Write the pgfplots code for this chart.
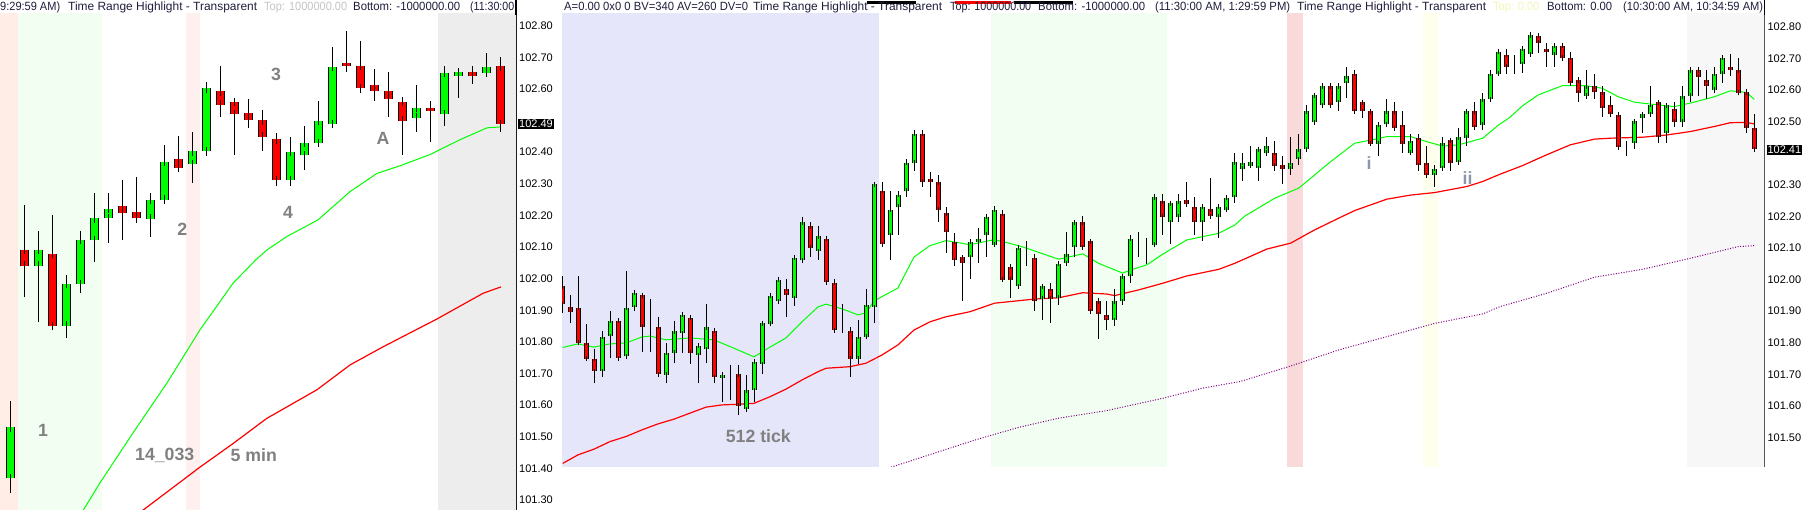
\documentclass[border=0pt]{standalone}
\usepackage{fontspec}
\setmainfont{Liberation Sans}
\usepackage{graphicx}
\usepackage{pgfplots}
\pgfplotsset{compat=1.18}
\usepackage{pgfplotstable}

\definecolor{cgreen}{HTML}{00FF00}
\definecolor{cred}{HTML}{FF0000}
\definecolor{mapurple}{HTML}{800080}
\definecolor{bgpeach}{HTML}{FFEDE6}
\definecolor{bgmint}{HTML}{F1FEF1}
\definecolor{bgpinkL}{HTML}{FFF0F0}
\definecolor{bggrayL}{HTML}{EDEDED}
\definecolor{bglav}{HTML}{E6E6FA}
\definecolor{bgpinkR}{HTML}{F8DADA}
\definecolor{bgivory}{HTML}{FFFFEE}
\definecolor{bggrayR}{HTML}{F7F7F7}
\definecolor{annot}{HTML}{808080}
\definecolor{annotb}{HTML}{8A96AA}
\definecolor{hdr}{HTML}{1E1E3C}
\definecolor{hdrlight}{HTML}{C4C4C4}
\definecolor{hdryellow}{HTML}{F4F4B8}

\newcommand\hfont{\fontsize{11.9}{12}\selectfont}
\newcommand\afont{\fontsize{17.7}{18}\selectfont\bfseries}
% header piece: left x, width, colour, text
\newcommand\hdrpiece[4]{%
  \node[anchor=base west, inner sep=0pt, font=\hfont, text=#3] at (#1pt,499pt)
    {\resizebox{#2pt}{\height}{#4}};}

% 5 min candles: index, open, high, low, close
\pgfplotstableread{
k o h l c
0 101.370 101.613 101.323 101.530
1 102.091 102.233 101.943 102.042
2 102.042 102.151 101.864 102.091
3 102.080 102.201 101.843 101.851
4 101.851 102.011 101.813 101.983
5 101.983 102.151 101.954 102.123
6 102.122 102.272 102.054 102.191
7 102.191 102.272 102.114 102.222
8 102.232 102.312 102.125 102.210
9 102.210 102.322 102.175 102.191
10 102.191 102.272 102.133 102.251
11 102.251 102.423 102.251 102.371
12 102.380 102.451 102.344 102.352
13 102.362 102.464 102.303 102.403
14 102.403 102.622 102.392 102.602
15 102.593 102.673 102.512 102.551
16 102.561 102.570 102.392 102.523
17 102.523 102.570 102.476 102.502
18 102.501 102.533 102.405 102.450
19 102.441 102.463 102.294 102.311
20 102.311 102.451 102.294 102.402
21 102.390 102.483 102.344 102.431
22 102.430 102.562 102.426 102.501
23 102.491 102.733 102.491 102.672
24 102.682 102.783 102.655 102.672
25 102.672 102.753 102.602 102.602
26 102.612 102.663 102.563 102.593
27 102.593 102.655 102.512 102.569
28 102.561 102.561 102.392 102.501
29 102.510 102.612 102.465 102.542
30 102.542 102.562 102.433 102.532
31 102.522 102.673 102.483 102.653
32 102.643 102.662 102.572 102.653
33 102.653 102.672 102.615 102.643
34 102.653 102.714 102.645 102.672
35 102.672 102.702 102.465 102.490
}\candlesL

% 512 tick candles: index, open, high, low, close
\pgfplotstableread{
k o h l c
0 101.980 102.011 101.893 101.922
1 101.914 101.951 101.863 101.898
2 101.912 102.011 101.801 101.801
3 101.801 101.861 101.750 101.750
4 101.750 101.780 101.673 101.710
5 101.710 101.838 101.692 101.819
6 101.821 101.900 101.754 101.870
7 101.870 101.870 101.743 101.750
8 101.758 102.030 101.754 101.912
9 101.912 101.959 101.901 101.959
10 101.951 101.959 101.772 101.851
11 101.853 101.940 101.772 101.853
12 101.851 101.880 101.700 101.700
13 101.700 101.800 101.673 101.769
14 101.769 101.870 101.735 101.838
15 101.830 101.898 101.769 101.890
16 101.880 101.890 101.735 101.769
17 101.761 101.800 101.673 101.791
18 101.780 101.922 101.735 101.851
19 101.838 101.840 101.673 101.690
20 101.690 101.700 101.613 101.700
21 101.700 101.729 101.619 101.700
22 101.700 101.731 101.573 101.600
23 101.589 101.700 101.589 101.650
24 101.650 101.743 101.613 101.740
25 101.731 101.870 101.703 101.861
26 101.861 101.959 101.854 101.949
27 101.932 102.000 101.932 102.000
28 101.972 102.000 101.882 101.951
29 101.942 102.070 101.916 102.070
30 102.062 102.199 102.062 102.181
31 102.170 102.181 102.072 102.102
32 102.090 102.170 102.062 102.139
33 102.130 102.139 101.991 101.991
34 101.990 102.000 101.840 101.840
35 101.838 101.922 101.832 101.838
36 101.838 101.851 101.692 101.750
37 101.750 101.872 101.735 101.819
38 101.819 101.972 101.814 101.921
39 101.912 102.309 101.863 102.301
40 102.281 102.309 102.104 102.111
41 102.141 102.281 102.062 102.222
42 102.230 102.281 102.141 102.269
43 102.281 102.380 102.262 102.371
44 102.371 102.473 102.344 102.462
45 102.462 102.473 102.294 102.309
46 102.320 102.341 102.262 102.309
47 102.309 102.331 102.183 102.222
48 102.209 102.230 102.083 102.149
49 102.120 102.149 102.044 102.062
50 102.070 102.070 101.933 102.051
51 102.070 102.120 102.004 102.120
52 102.120 102.162 102.051 102.130
53 102.141 102.209 102.072 102.199
54 102.111 102.232 102.104 102.222
55 102.209 102.222 102.000 102.000
56 102.041 102.041 101.942 102.000
57 101.980 102.111 101.980 102.102
58 102.070 102.122 102.043 102.070
59 102.070 102.081 101.900 101.932
60 101.940 101.980 101.872 101.980
61 101.972 101.991 101.863 101.940
62 101.942 102.051 101.922 102.051
63 102.051 102.151 102.044 102.080
64 102.102 102.190 102.072 102.181
65 102.181 102.201 102.102 102.102
66 102.122 102.122 101.900 101.900
67 101.932 101.942 101.814 101.891
68 101.890 101.932 101.840 101.872
69 101.872 101.972 101.854 101.932
70 101.932 102.011 101.922 102.011
71 102.011 102.141 101.990 102.130
72 102.122 102.151 102.070 102.122
73 102.122 102.132 102.051 102.122
74 102.111 102.269 102.111 102.260
75 102.249 102.269 102.141 102.199
76 102.181 102.241 102.111 102.241
77 102.199 102.269 102.181 102.249
78 102.251 102.309 102.230 102.241
79 102.230 102.260 102.141 102.181
80 102.181 102.241 102.122 102.230
81 102.222 102.320 102.191 102.201
82 102.199 102.230 102.132 102.230
83 102.222 102.269 102.222 102.260
84 102.260 102.402 102.244 102.371
85 102.352 102.402 102.312 102.371
86 102.360 102.422 102.354 102.371
87 102.352 102.412 102.312 102.412
88 102.402 102.452 102.392 102.422
89 102.402 102.441 102.344 102.360
90 102.362 102.392 102.304 102.352
91 102.352 102.452 102.331 102.371
92 102.380 102.462 102.362 102.412
93 102.412 102.552 102.412 102.533
94 102.499 102.584 102.499 102.584
95 102.552 102.623 102.552 102.612
96 102.612 102.623 102.552 102.552
97 102.561 102.623 102.533 102.612
98 102.621 102.673 102.573 102.644
99 102.652 102.663 102.533 102.533
100 102.561 102.571 102.513 102.533
101 102.533 102.542 102.423 102.431
102 102.431 102.491 102.392 102.491
103 102.491 102.571 102.484 102.533
104 102.533 102.561 102.473 102.480
105 102.491 102.533 102.402 102.431
106 102.402 102.462 102.402 102.441
107 102.450 102.462 102.344 102.362
108 102.371 102.423 102.331 102.331
109 102.331 102.362 102.294 102.352
110 102.352 102.452 102.344 102.431
111 102.441 102.441 102.344 102.371
112 102.371 102.481 102.371 102.450
113 102.450 102.533 102.423 102.533
114 102.533 102.561 102.481 102.481
115 102.491 102.592 102.473 102.571
116 102.571 102.663 102.563 102.652
117 102.652 102.731 102.652 102.721
118 102.712 102.731 102.652 102.673
119 102.670 102.712 102.652 102.670
120 102.682 102.731 102.655 102.731
121 102.712 102.782 102.712 102.772
122 102.772 102.772 102.716 102.750
123 102.731 102.750 102.673 102.721
124 102.712 102.750 102.673 102.740
125 102.740 102.750 102.692 102.702
126 102.702 102.721 102.621 102.621
127 102.631 102.642 102.563 102.592
128 102.582 102.663 102.573 102.612
129 102.612 102.652 102.571 102.592
130 102.592 102.612 102.513 102.542
131 102.552 102.582 102.513 102.523
132 102.523 102.523 102.420 102.420
133 102.431 102.441 102.392 102.431
134 102.431 102.510 102.415 102.501
135 102.510 102.531 102.465 102.523
136 102.523 102.612 102.523 102.552
137 102.561 102.563 102.433 102.450
138 102.462 102.552 102.433 102.552
139 102.542 102.561 102.484 102.501
140 102.501 102.612 102.484 102.582
141 102.582 102.673 102.563 102.663
142 102.663 102.673 102.582 102.642
143 102.631 102.663 102.571 102.612
144 102.602 102.673 102.592 102.652
145 102.652 102.702 102.623 102.702
146 102.672 102.712 102.644 102.663
147 102.663 102.702 102.592 102.592
148 102.592 102.602 102.465 102.480
149 102.480 102.523 102.404 102.412
}\candlesR

\pgfplotsset{
  panel/.style={
    scale only axis,
    axis x line=none,
    axis y line=right,
    axis line style={black, line width=1.2pt, -},
    xtick=\empty,
    scaled y ticks=false,
    major tick length=0pt,
    tick style={draw=none},
    yticklabel style={font=\fontsize{11}{12}\selectfont, anchor=west, inner sep=0pt, xshift=3pt,
      /pgf/number format/fixed, /pgf/number format/fixed zerofill,
      /pgf/number format/precision=2, /pgf/number format/assume math mode=true},
    extra y tick style={yticklabel style={fill=black, text=white, inner sep=1pt, xshift=-1pt}},
  },
  wicks/.style={draw=none, mark=none, error bars/.cd, y dir=both, y explicit,
    error mark=none, error bar style={black, line width=1pt}},
  bodyout/.style={draw=none, mark=none, restrict y to domain=100:104, error bars/.cd,
    y dir=both, y explicit, error mark=none, error bar style={black, line width=#1}},
  bodyin/.style n args={3}{draw=none, mark=none, restrict y to domain=100:104, error bars/.cd,
    y dir=both, y explicit, error mark=-, error mark options={black, line width=1pt, mark size=#3},
    error bar style={#1, line width=#2}},
}

\begin{document}
\begin{tikzpicture}
\path[use as bounding box] (0pt,0pt) rectangle (1813pt,510pt);

% ---------------- left panel: 5 min ----------------
\begin{axis}[panel, at={(0pt,0pt)}, anchor=south west,
  width=516pt, height=496pt,
  xmin=-0.765, xmax=36.12, ymin=101.2684, ymax=102.837,
  ytick={101.3,101.4,101.5,101.6,101.7,101.8,101.9,102.0,102.1,102.2,102.3,102.4,102.6,102.7,102.8},
  extra y ticks={102.49}]
  \addplot[draw=none, fill=bgpeach] coordinates {(-1,101) (-1,103) (0.52,103) (0.52,101)} -- cycle;
  \addplot[draw=none, fill=bgmint] coordinates {(0.52,101) (0.52,103) (6.53,103) (6.53,101)} -- cycle;
  \addplot[draw=none, fill=bgpinkL] coordinates {(12.53,101) (12.53,103) (13.53,103) (13.53,101)} -- cycle;
  \addplot[draw=none, fill=bggrayL] coordinates {(30.55,101) (30.55,103) (37,103) (37,101)} -- cycle;

  \addplot[cgreen, line width=1pt, mark=none] coordinates {
    (4.6,101.225) (5.19,101.268) (6.38,101.354) (8.74,101.512) (11.17,101.670)
    (13.53,101.838) (15.9,101.986) (17.51,102.059) (18.32,102.091) (19.73,102.133)
    (21.97,102.186) (24.25,102.275) (26.19,102.333) (27.83,102.357) (30.0,102.393)
    (32.1,102.439) (34.05,102.477) (35.05,102.480)};
  \addplot[cred, line width=1.2pt, mark=none] coordinates {
    (8.5,101.236) (9.46,101.268) (13.53,101.404) (15.91,101.479) (18.30,101.558)
    (21.87,101.648) (24.25,101.727) (26.64,101.785) (30.45,101.872) (33.78,101.954)
    (35.05,101.974)};

  \addplot[wicks] table[x=k, y expr={(\thisrow{h}+\thisrow{l})/2},
    y error expr={(\thisrow{h}-\thisrow{l})/2}] {\candlesL};
  \addplot[bodyout=8.6pt] table[x=k,
    y expr={\thisrow{c}<\thisrow{o} ? 200 : (\thisrow{o}+\thisrow{c})/2},
    y error expr={abs(\thisrow{c}-\thisrow{o})/2}] {\candlesL};
  \addplot[bodyin={cgreen}{6.6pt}{4.3pt}] table[x=k,
    y expr={\thisrow{c}<\thisrow{o} ? 200 : (\thisrow{o}+\thisrow{c})/2},
    y error expr={abs(\thisrow{c}-\thisrow{o})/2}] {\candlesL};
  \addplot[bodyout=8.6pt] table[x=k,
    y expr={\thisrow{c}<\thisrow{o} ? (\thisrow{o}+\thisrow{c})/2 : 200},
    y error expr={abs(\thisrow{c}-\thisrow{o})/2}] {\candlesL};
  \addplot[bodyin={cred}{6.6pt}{4.3pt}] table[x=k,
    y expr={\thisrow{c}<\thisrow{o} ? (\thisrow{o}+\thisrow{c})/2 : 200},
    y error expr={abs(\thisrow{c}-\thisrow{o})/2}] {\candlesL};

  \node[font=\afont, text=annot] at (axis cs:2.31,101.521) {1};
  \node[font=\afont, text=annot] at (axis cs:12.26,102.157) {2};
  \node[font=\afont, text=annot] at (axis cs:18.96,102.647) {3};
  \node[font=\afont, text=annot] at (axis cs:19.82,102.211) {4};
  \node[font=\afont, text=annot] at (axis cs:26.61,102.445) {A};
  \node[font=\afont, text=annot] at (axis cs:11.01,101.441) {14\_033};
  \node[font=\afont, text=annot] at (axis cs:17.38,101.441) {5 min};
\end{axis}

% ---------------- right panel: 512 tick ----------------
\begin{axis}[panel, at={(562pt,43pt)}, anchor=south west,
  width=1202.3pt, height=453pt,
  xmin=-0.0875, xmax=150.2, ymin=101.4066, ymax=102.840,
  ytick={101.5,101.6,101.7,101.8,101.9,102.0,102.1,102.2,102.3,102.5,102.6,102.7,102.8},
  extra y ticks={102.41}]
  \addplot[draw=none, fill=bglav] coordinates {(-1,101) (-1,103) (39.54,103) (39.54,101)} -- cycle;
  \addplot[draw=none, fill=bgmint] coordinates {(53.54,101) (53.54,103) (75.5,103) (75.5,101)} -- cycle;
  \addplot[draw=none, fill=bgpinkR] coordinates {(90.54,101) (90.54,103) (92.54,103) (92.54,101)} -- cycle;
  \addplot[draw=none, fill=bgivory] coordinates {(107.54,101) (107.54,103) (109.54,103) (109.54,101)} -- cycle;
  \addplot[draw=none, fill=bggrayR] coordinates {(140.58,101) (140.58,103) (151,103) (151,101)} -- cycle;

  \addplot[mapurple, line width=1pt, dash pattern=on 1pt off 1.6pt, mark=none] coordinates {
    (39.5,101.393) (41.3,101.408) (51.54,101.492) (57.0,101.532) (62.0,101.561)
    (68.0,101.585) (75.0,101.624) (80.0,101.656) (84.66,101.677) (91.0,101.726)
    (97.0,101.777) (103.0,101.819) (109.0,101.861) (115.0,101.891) (117.16,101.914)
    (122.95,101.956) (128.95,102.007) (134.95,102.032) (140.95,102.067) (146.95,102.104)
    (148.95,102.107)};
  \addplot[cred, line width=1.2pt, mark=none] coordinates {
    (0,101.418) (1.91,101.445) (3.91,101.463) (5.91,101.487) (7.91,101.503)
    (9.91,101.524) (11.91,101.543) (13.91,101.558) (15.91,101.577) (17.91,101.596)
    (19.91,101.603) (21.91,101.605) (23.91,101.608) (25.91,101.629) (27.91,101.653)
    (29.91,101.682) (31.91,101.708) (32.91,101.719) (35.91,101.724) (37.91,101.735)
    (39.91,101.761) (41.91,101.793) (43.91,101.840) (45.91,101.866) (47.91,101.882)
    (50.91,101.898) (54.0,101.925) (59.0,101.938) (62.0,101.942) (65.0,101.958)
    (68.0,101.954) (69.0,101.949) (72.0,101.967) (75.0,101.988) (78.0,102.011)
    (82.0,102.032) (84.0,102.051) (88.0,102.096) (91.0,102.115) (94.0,102.157)
    (97.0,102.194) (99.0,102.218) (103.0,102.254) (106.0,102.267) (109.0,102.275)
    (113.0,102.294) (115.0,102.310) (117.16,102.333) (119.95,102.360) (122.95,102.394)
    (125.95,102.426) (128.95,102.444) (130.95,102.447) (134.95,102.450) (137.95,102.457)
    (140.95,102.468) (143.95,102.484) (145.95,102.496) (147.95,102.497) (148.95,102.492)};
  \addplot[cgreen, line width=1pt, mark=none] coordinates {
    (0,101.785) (1.91,101.796) (3.91,101.786) (5.91,101.796) (7.91,101.799)
    (9.91,101.818) (10.91,101.821) (12.91,101.809) (15.91,101.815) (18.91,101.809)
    (21.91,101.777) (23.91,101.755) (25.91,101.786) (27.91,101.815) (29.91,101.866)
    (31.91,101.913) (32.91,101.922) (34.91,101.907) (36.91,101.888) (37.91,101.894)
    (38.91,101.932) (41.91,101.973) (43.91,102.071) (45.91,102.107) (47.91,102.123)
    (50.91,102.110) (54.0,102.126) (57.0,102.107) (59.0,102.090) (62.0,102.064)
    (65.0,102.081) (67.0,102.051) (70.0,102.020) (71.0,102.030) (73.0,102.046)
    (75.0,102.080) (78.0,102.125) (82.0,102.146) (84.0,102.172) (85.29,102.201)
    (89.0,102.257) (92.0,102.289) (96.0,102.373) (99.0,102.431) (101.0,102.441)
    (103.0,102.452) (106.0,102.452) (108.0,102.436) (110.0,102.422) (112.0,102.426)
    (115.0,102.447) (117.0,102.489) (118.4,102.513) (119.95,102.549) (121.95,102.584)
    (124.95,102.613) (127.95,102.613) (129.95,102.605) (131.95,102.578) (133.95,102.561)
    (135.95,102.555) (138.95,102.547) (140.95,102.558) (143.95,102.578) (145.95,102.597)
    (147.95,102.592) (148.95,102.570)};

  \addplot[wicks] table[x=k, y expr={(\thisrow{h}+\thisrow{l})/2},
    y error expr={(\thisrow{h}-\thisrow{l})/2}] {\candlesR};
  \addplot[bodyout=5pt] table[x=k,
    y expr={\thisrow{c}<\thisrow{o} ? 200 : (\thisrow{o}+\thisrow{c})/2},
    y error expr={abs(\thisrow{c}-\thisrow{o})/2}] {\candlesR};
  \addplot[bodyin={cgreen}{3pt}{2.5pt}] table[x=k,
    y expr={\thisrow{c}<\thisrow{o} ? 200 : (\thisrow{o}+\thisrow{c})/2},
    y error expr={abs(\thisrow{c}-\thisrow{o})/2}] {\candlesR};
  \addplot[bodyout=5pt] table[x=k,
    y expr={\thisrow{c}<\thisrow{o} ? (\thisrow{o}+\thisrow{c})/2 : 200},
    y error expr={abs(\thisrow{c}-\thisrow{o})/2}] {\candlesR};
  \addplot[bodyin={cred}{3pt}{2.5pt}] table[x=k,
    y expr={\thisrow{c}<\thisrow{o} ? (\thisrow{o}+\thisrow{c})/2 : 200},
    y error expr={abs(\thisrow{c}-\thisrow{o})/2}] {\candlesR};

  \node[font=\afont, text=annot] at (axis cs:24.45,101.504) {512 tick};
  \node[font=\afont, text=annotb] at (axis cs:100.8,102.368) {i};
  \node[font=\afont, text=annotb] at (axis cs:113.1,102.322) {ii};
\end{axis}

% axis lines running up through the header strip
\draw[black, line width=1.2pt] (516pt,495pt) -- (516pt,510pt);
\draw[black, line width=1.2pt] (1764.3pt,495pt) -- (1764.3pt,510pt);

% indicator legend strips
\fill[black] (867pt,506pt) rectangle (916pt,509pt);
\fill[cred] (955pt,506pt) rectangle (1011pt,509pt);
\fill[black] (1014pt,506pt) rectangle (1073pt,509pt);

% header texts
\hdrpiece{0}{60}{hdr}{9:29:59 AM)}
\hdrpiece{68}{189}{hdr}{Time Range Highlight - Transparent}
\hdrpiece{264}{83}{hdrlight}{Top: 1000000.00}
\hdrpiece{353}{107}{hdr}{Bottom: -1000000.00}
\hdrpiece{470}{44}{hdr}{(11:30:00}
\hdrpiece{564}{184}{hdr}{A=0.00 0x0 0 BV=340 AV=260 DV=0}
\hdrpiece{753}{189}{hdr}{Time Range Highlight - Transparent}
\hdrpiece{950}{81}{hdr}{Top: 1000000.00}
\hdrpiece{1038}{107}{hdr}{Bottom: -1000000.00}
\hdrpiece{1155}{135}{hdr}{(11:30:00 AM, 1:29:59 PM)}
\hdrpiece{1297}{189}{hdr}{Time Range Highlight - Transparent}
\hdrpiece{1493}{46}{hdryellow}{Top: 0.00}
\hdrpiece{1547}{65}{hdr}{Bottom: 0.00}
\hdrpiece{1623}{140}{hdr}{(10:30:00 AM, 10:34:59 AM)}
\end{tikzpicture}
\end{document}
